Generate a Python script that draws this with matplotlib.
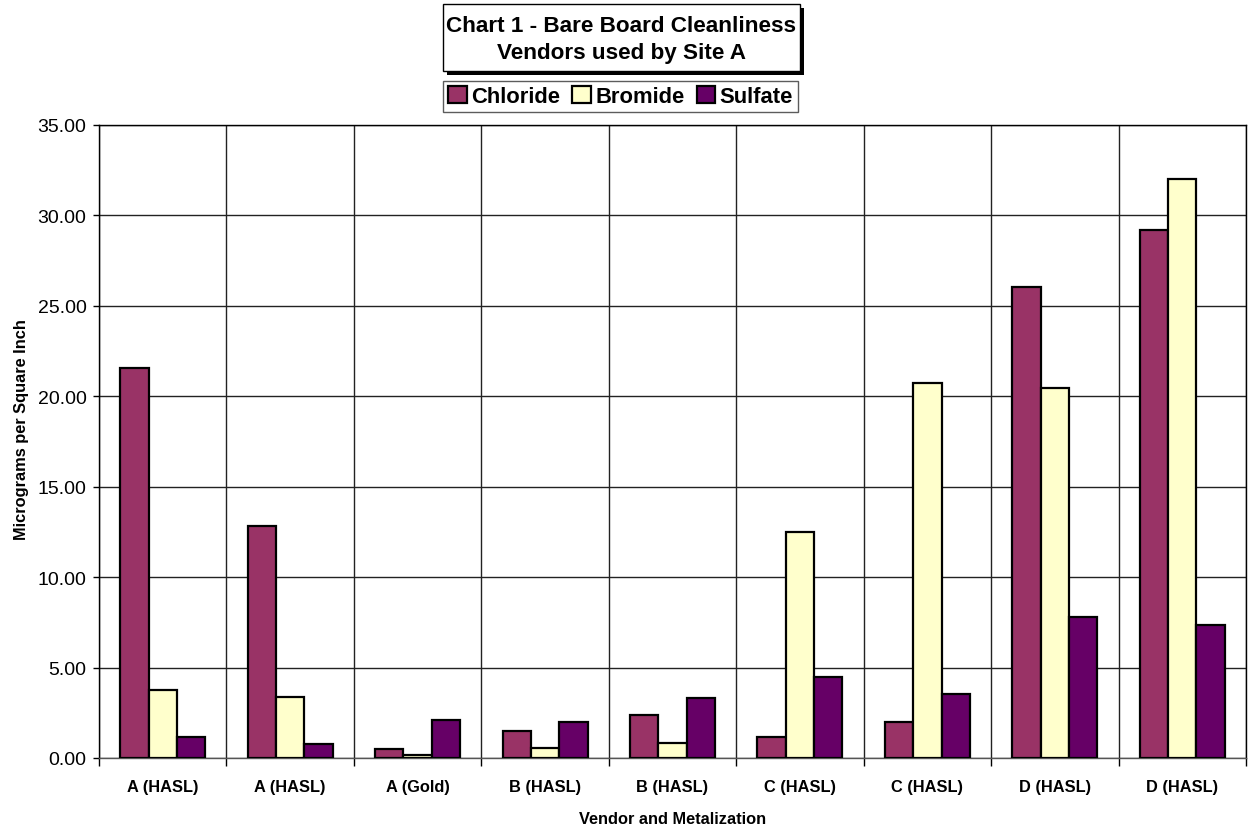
import matplotlib
matplotlib.use("Agg")
import matplotlib.pyplot as plt
from matplotlib.patches import Rectangle
import numpy as np

categories = ["A (HASL)", "A (HASL)", "A (Gold)", "B (HASL)", "B (HASL)",
              "C (HASL)", "C (HASL)", "D (HASL)", "D (HASL)"]
chloride = [21.59, 12.84, 0.48, 1.49, 2.36, 1.18, 1.97, 26.07, 29.17]
bromide = [3.77, 3.39, 0.18, 0.55, 0.81, 12.51, 20.76, 20.48, 32.01]
sulfate = [1.18, 0.77, 2.12, 1.97, 3.30, 4.46, 3.52, 7.77, 7.33]
series_names = ["Chloride", "Bromide", "Sulfate"]
series_colors = ["#993366", "#FFFFCC", "#660066"]
yticks = [0, 5, 10, 15, 20, 25, 30, 35]

plt.rcParams['font.family'] = ['Liberation Sans', 'DejaVu Sans']

W, H = 1248, 829
fig = plt.figure(figsize=(W / 100, H / 100), dpi=100)
ax = fig.add_axes([99 / W, 1 - 759 / H, (1246 - 99) / W, (759 - 126) / H])

n = len(categories)
x = np.arange(n)
bw = 1 / 4.5
handles = []
for i, (vals, name, col) in enumerate(zip([chloride, bromide, sulfate], series_names, series_colors)):
    b = ax.bar(x + (i - 1) * bw, vals, width=bw, color=col, edgecolor="black",
               linewidth=1.6, label=name, zorder=3)
    handles.append(b)

ax.set_xlim(-0.5, n - 0.5)
ax.set_ylim(0, 35)
ax.set_yticks(yticks)
ax.set_yticklabels([f"{v:.2f}" for v in yticks], fontsize=14)
ax.tick_params(axis='y', length=4, width=1, pad=5, direction='out')

# category boundaries as major ticks (gridlines), labels at centers as minor
ax.set_xticks(np.arange(-0.5, n, 1.0))
ax.set_xticklabels([])
ax.set_xticks(x, minor=True)
ax.set_xticklabels(categories, minor=True, fontsize=11.8, fontweight='bold')
ax.tick_params(axis='x', which='major', length=6, width=1, direction='out')
ax.tick_params(axis='x', which='minor', length=0, pad=15)

ax.grid(True, which='major', color='#222222', linewidth=1, zorder=0)
ax.set_axisbelow(True)
for s in ax.spines.values():
    s.set_color('black')
    s.set_linewidth(1)
ax.spines['bottom'].set_color('#555555')

ax.set_ylabel("Micrograms per Square Inch", fontsize=11.8, fontweight='bold', va='center')
ax.yaxis.set_label_coords(-0.068, 0.521)
ax.set_xlabel("Vendor and Metalization", fontsize=11.8, fontweight='bold', va='center')
ax.xaxis.set_label_coords(0.5, -0.096)

def px_rect(x0, y0, x1, y1, **kw):
    return Rectangle((x0 / W, 1 - y1 / H), (x1 - x0) / W, (y1 - y0) / H,
                     transform=fig.transFigure, **kw)

# Title box with shadow
fig.patches.append(px_rect(447, 9, 804, 76, facecolor='black', edgecolor='none'))
fig.patches.append(px_rect(443, 5, 800, 72, facecolor='white', edgecolor='black', linewidth=1))
fig.text(621.5 / W, 1 - 40 / H, "Chart 1 - Bare Board Cleanliness\nVendors used by Site A",
         ha='center', va='center', fontsize=16.2, fontweight='bold', linespacing=1.4)

leg = fig.legend(handles=handles, labels=series_names, loc='center',
                 bbox_to_anchor=(620.5 / W, 1 - 97.5 / H), ncol=3,
                 prop={'weight': 'bold', 'size': 15.8}, frameon=True, fancybox=False,
                 handlelength=0.85, handleheight=0.85, handletextpad=0.2,
                 columnspacing=0.55, borderpad=0.22, borderaxespad=0)
leg.get_frame().set_edgecolor('#333333')
leg.get_frame().set_linewidth(1)

fig.savefig("out.png", dpi=100)
